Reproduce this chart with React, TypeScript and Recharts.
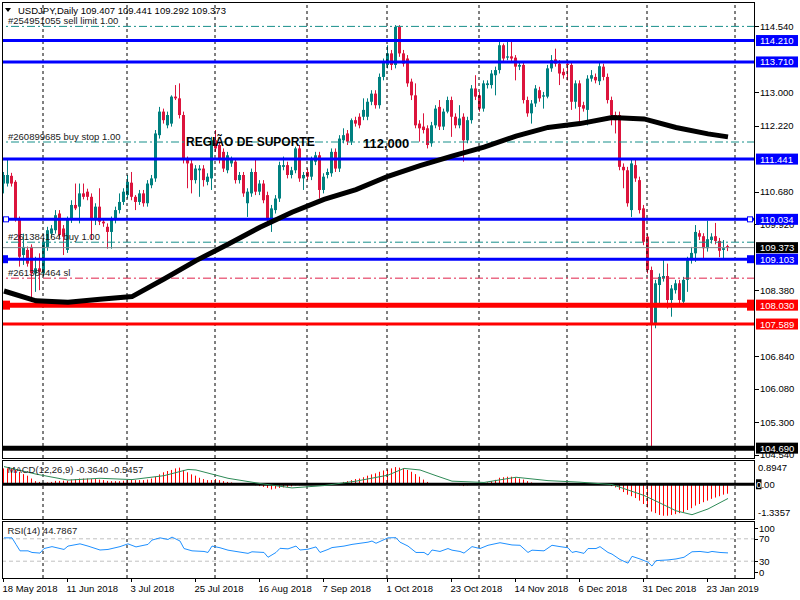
import React from "react";
import { ComposedChart, Bar, Line, XAxis, YAxis, ReferenceLine } from "recharts";

const FONT = '"Liberation Sans", Arial, sans-serif';
const BULL = "#008080";
const BEAR = "#dc143c";
const BLUE = "#0000ff";
const RED = "#ff0000";
const TEAL_ORDER = "#178f8a";
const RED_ORDER = "#e0204a";
const HIST = "#ff0000";
const SIGNAL = "#2e8b57";
const RSI_COLOR = "#1e90ff";

// Daily candles [open, high, low, close], 18 May 2018 .. 30 Jan 2019
const ohlc: [number, number, number, number][] = [
  [110.87, 111.14, 110.64, 111.07], [110.87, 111.42, 110.8, 111.07], [111.05, 111.12, 110.8, 110.87], [110.91, 110.95, 109.98, 110.02],
  [110.05, 110.1, 108.93, 109.16], [109.2, 109.7, 108.97, 109.39], [109.32, 109.4, 108.93, 109.0], [109.39, 109.45, 108.11, 108.77],
  [108.77, 109.16, 108.34, 108.89], [108.89, 109.24, 108.38, 108.81], [108.77, 109.6, 108.7, 109.51], [109.39, 109.86, 109.3, 109.78],
  [109.7, 109.9, 109.6, 109.82], [109.78, 110.25, 109.7, 110.13], [110.17, 110.25, 109.6, 109.67], [109.82, 109.9, 109.2, 109.63],
  [109.32, 110.1, 109.25, 110.02], [110.02, 110.48, 109.95, 110.37], [110.37, 110.87, 110.25, 110.29], [110.33, 110.87, 109.94, 110.64],
  [110.64, 110.87, 110.5, 110.56], [110.68, 110.75, 110.48, 110.56], [110.56, 110.64, 109.55, 110.02], [110.02, 110.41, 109.9, 110.33],
  [110.33, 110.76, 109.9, 109.98], [109.98, 110.05, 109.86, 109.94], [109.86, 109.94, 109.35, 109.74], [109.74, 110.1, 109.35, 110.02],
  [110.02, 110.33, 109.94, 110.25], [110.25, 110.64, 110.17, 110.44], [110.44, 110.76, 110.37, 110.68], [110.6, 111.07, 110.52, 110.91],
  [110.89, 111.14, 110.48, 110.56], [110.56, 110.6, 110.25, 110.44], [110.44, 110.72, 110.37, 110.64], [110.64, 110.72, 110.33, 110.41],
  [110.41, 110.95, 110.33, 110.87], [110.83, 111.07, 110.76, 110.99], [110.99, 112.12, 110.91, 112.04], [112.0, 112.66, 111.92, 112.55],
  [112.55, 112.62, 112.27, 112.35], [112.23, 112.55, 112.16, 112.47], [112.27, 112.93, 112.2, 112.9], [112.9, 113.17, 112.82, 112.86],
  [112.86, 113.21, 112.39, 112.47], [112.47, 112.55, 111.34, 111.42], [111.42, 111.5, 110.76, 111.34], [111.34, 111.42, 110.64, 110.95],
  [110.95, 111.3, 110.87, 111.22], [111.18, 111.3, 110.56, 111.22], [111.22, 111.3, 110.8, 110.95], [110.91, 111.11, 110.83, 111.03],
  [110.99, 111.96, 110.72, 111.88], [111.88, 112.12, 111.61, 111.69], [111.77, 111.85, 111.34, 111.42], [111.61, 111.69, 111.14, 111.22],
  [111.18, 111.61, 111.11, 111.53], [111.34, 111.5, 111.26, 111.42], [111.38, 111.46, 110.87, 110.95], [110.95, 111.14, 110.87, 111.07],
  [111.07, 111.14, 110.56, 110.64], [110.41, 110.76, 110.09, 110.68], [110.64, 111.22, 110.56, 111.14], [111.14, 111.42, 110.6, 110.68],
  [110.68, 110.95, 110.6, 110.87], [110.87, 110.95, 110.41, 110.48], [110.6, 110.68, 109.94, 110.02], [110.02, 110.37, 109.74, 110.29],
  [110.25, 110.6, 110.17, 110.52], [110.52, 111.38, 110.44, 111.3], [111.26, 111.5, 111.18, 111.3], [111.3, 111.38, 110.99, 111.07],
  [111.07, 111.26, 110.99, 111.18], [111.18, 111.73, 111.11, 111.69], [111.69, 111.77, 110.91, 110.99], [110.99, 111.14, 110.72, 111.07],
  [111.14, 111.22, 110.95, 111.03], [111.03, 111.5, 110.95, 111.43], [111.38, 111.61, 111.3, 111.53], [111.53, 111.61, 110.52, 110.72],
  [110.72, 111.11, 110.64, 111.03], [111.07, 111.22, 110.99, 111.14], [111.11, 111.69, 111.03, 111.61], [111.61, 111.69, 111.14, 111.22],
  [111.22, 112.0, 111.14, 111.92], [111.88, 112.16, 111.81, 112.0], [112.04, 112.12, 111.77, 111.85], [111.85, 112.39, 111.77, 112.35],
  [112.35, 112.43, 112.2, 112.27], [112.43, 112.51, 112.16, 112.23], [112.43, 112.86, 112.35, 112.59], [112.43, 112.86, 112.35, 112.78],
  [112.78, 113.05, 112.7, 112.97], [112.97, 113.05, 112.62, 112.7], [112.7, 113.44, 112.62, 113.36], [113.36, 113.79, 113.28, 113.71],
  [113.64, 114.1, 113.56, 113.91], [113.91, 113.99, 113.52, 113.64], [113.64, 114.57, 113.56, 114.53], [114.53, 114.57, 113.83, 113.91],
  [113.91, 113.99, 113.6, 113.67], [113.79, 113.87, 113.13, 113.21], [113.25, 113.32, 112.82, 112.93], [112.93, 113.21, 112.16, 112.23],
  [112.27, 112.35, 111.85, 112.16], [112.2, 112.51, 112.04, 112.12], [112.16, 112.23, 111.69, 111.77], [111.81, 112.31, 111.73, 112.23],
  [112.23, 112.7, 112.16, 112.62], [112.66, 112.82, 112.12, 112.2], [112.2, 112.62, 112.12, 112.55], [112.55, 112.9, 112.51, 112.82],
  [112.82, 112.9, 111.96, 112.43], [112.43, 112.51, 112.16, 112.23], [112.23, 112.7, 112.16, 112.39], [112.43, 112.51, 111.38, 111.88],
  [111.88, 112.43, 111.81, 112.35], [112.35, 113.17, 112.27, 113.09], [113.09, 113.4, 112.82, 112.9], [112.93, 113.01, 112.55, 112.62],
  [112.62, 113.28, 112.55, 113.21], [113.17, 113.28, 113.09, 113.21], [113.17, 113.52, 113.09, 113.44], [113.4, 113.6, 112.93, 113.52],
  [113.52, 114.18, 113.44, 114.1], [114.1, 114.14, 113.71, 113.79], [113.81, 114.22, 113.75, 113.84], [113.84, 114.18, 113.71, 113.79],
  [113.81, 113.87, 113.28, 113.6], [113.6, 113.71, 113.52, 113.64], [113.64, 113.71, 112.74, 112.82], [112.82, 112.9, 112.43, 112.51],
  [112.51, 112.82, 112.27, 112.74], [112.74, 113.17, 112.66, 113.09], [113.05, 113.13, 112.78, 112.86], [112.9, 113.01, 112.62, 112.93],
  [112.9, 113.64, 112.86, 113.56], [113.56, 113.87, 113.48, 113.75], [113.77, 114.02, 113.6, 113.67], [113.67, 113.75, 113.17, 113.44],
  [113.48, 113.56, 113.32, 113.4], [113.67, 113.75, 113.28, 113.64], [113.64, 113.71, 112.59, 112.78], [112.78, 113.28, 112.62, 113.21],
  [113.21, 113.28, 112.23, 112.66], [112.7, 112.78, 112.55, 112.62], [112.59, 113.4, 112.23, 113.32], [113.32, 113.52, 113.25, 113.4],
  [113.36, 113.44, 113.21, 113.28], [113.26, 113.71, 113.17, 113.61], [113.6, 113.67, 113.28, 113.36], [113.36, 113.44, 112.74, 112.82],
  [112.82, 112.9, 112.23, 112.47], [112.47, 112.55, 112.04, 112.35], [112.47, 112.55, 111.18, 111.26], [111.26, 111.34, 110.76, 111.18],
  [111.18, 111.26, 110.33, 110.41], [110.25, 111.42, 110.09, 111.34], [111.3, 111.42, 110.91, 110.99], [110.95, 111.03, 110.17, 110.25],
  [110.29, 110.37, 109.43, 109.51], [109.63, 109.7, 108.77, 108.85], [108.85, 108.93, 104.69, 107.6], [107.6, 108.62, 107.49, 108.54],
  [108.5, 108.77, 107.99, 108.69], [108.65, 109.08, 108.58, 108.71], [108.71, 109.0, 107.95, 108.15], [108.15, 108.5, 107.76, 108.42],
  [108.38, 108.62, 108.3, 108.54], [108.54, 108.62, 108.07, 108.15], [108.11, 108.69, 108.03, 108.62], [108.62, 109.16, 108.34, 109.08],
  [109.08, 109.39, 109.0, 109.25], [109.24, 109.9, 109.04, 109.74], [109.71, 109.78, 109.55, 109.63], [109.64, 109.71, 109.12, 109.36],
  [109.36, 110.0, 109.28, 109.57], [109.55, 109.71, 109.47, 109.63], [109.64, 109.95, 109.45, 109.53], [109.53, 109.6, 109.15, 109.3],
  [109.32, 109.55, 109.12, 109.36], [109.407, 109.441, 109.292, 109.373],
];

// Moving average read at sparse bars [bar, value]
const maPoints: [number, number][] = [
  [0, 108.36], [8, 108.13], [16, 108.1], [24, 108.17], [32, 108.23], [40, 108.64], [48, 109.07], [56, 109.45],
  [64, 109.85], [72, 110.2], [80, 110.5], [88, 110.73], [96, 111.04], [104, 111.29], [112, 111.51], [120, 111.72],
  [128, 111.98], [136, 112.18], [144, 112.27], [152, 112.41], [160, 112.38], [168, 112.18], [176, 112.03], [181, 111.96],
];

// MACD main (histogram), one per bar
const macdHist = [
  0.61, 0.61, 0.61, 0.55, 0.48, 0.39, 0.33, 0.22, 0.12, 0.09,
  0.05, 0.07, 0.09, 0.13, 0.13, 0.14, 0.14, 0.18, 0.2, 0.22,
  0.22, 0.22, 0.2, 0.2, 0.18, 0.16, 0.13, 0.12, 0.12, 0.12,
  0.14, 0.18, 0.18, 0.16, 0.16, 0.16, 0.18, 0.22, 0.29, 0.38,
  0.46, 0.51, 0.55, 0.61, 0.64, 0.55, 0.46, 0.38, 0.33, 0.25,
  0.2, 0.16, 0.16, 0.2, 0.16, 0.12, 0.09, 0.07, 0.03, 0.0,
  -0.01, -0.01, 0.0, -0.04, -0.07, -0.1, -0.14, -0.2, -0.17, -0.14,
  -0.12, -0.1, -0.08, -0.04, -0.04, -0.01, 0.0, -0.01, 0.01, 0.0,
  -0.01, 0.0, 0.01, 0.02, 0.04, 0.09, 0.12, 0.16, 0.2, 0.22,
  0.27, 0.33, 0.38, 0.42, 0.48, 0.53, 0.57, 0.61, 0.66, 0.64,
  0.61, 0.55, 0.48, 0.39, 0.29, 0.18, 0.09, 0.03, 0.01, 0.0,
  0.0, -0.01, 0.0, -0.01, -0.04, -0.07, -0.04, 0.0, 0.01, 0.01,
  0.03, 0.07, 0.12, 0.17, 0.25, 0.27, 0.29, 0.29, 0.26, 0.22,
  0.18, 0.12, 0.07, 0.02, 0.02, 0.01, 0.02, 0.03, 0.02, 0.01,
  0.01, 0.0, 0.0, 0.01, 0.0, -0.01, 0.0, 0.01, 0.0, 0.01,
  0.0, -0.01, -0.07, -0.12, -0.21, -0.3, -0.4, -0.46, -0.53, -0.63,
  -0.76, -0.89, -1.05, -1.11, -1.18, -1.21, -1.21, -1.18, -1.15, -1.11,
  -1.08, -0.99, -0.92, -0.82, -0.76, -0.69, -0.63, -0.56, -0.51, -0.46,
  -0.4, -0.364,
];

// MACD signal read at sparse bars
const signalPoints: [number, number][] = [
  [0, 0.68], [8, 0.39], [16, 0.16], [24, 0.23], [32, 0.18], [40, 0.33], [46, 0.57], [48, 0.55],
  [56, 0.23], [64, 0.03], [72, -0.14], [80, -0.05], [88, 0.12], [96, 0.35], [100, 0.61], [104, 0.55],
  [108, 0.33], [112, 0.12], [120, 0.07], [128, 0.27], [136, 0.14], [144, 0.08], [152, -0.01], [160, -0.43],
  [164, -0.72], [168, -1.02], [172, -1.17], [176, -0.95], [181, -0.5457],
];

// RSI(14) read at bars
const rsiPoints: [number, number][] = [
  [0, 71.7], [2, 71.7], [3, 60], [4, 48.5], [6, 48.5], [7, 45.6], [9, 44.5], [10, 52.6], [12, 56], [15, 51],
  [16, 57], [19, 61], [21, 57], [24, 50], [26, 51], [29, 56], [31, 61], [33, 55.5], [36, 60], [37, 67.7],
  [39, 71.7], [41, 68.8], [42, 73], [44, 66], [45, 52.6], [47, 48.5], [50, 47.4], [51, 45.6], [52, 57], [54, 54],
  [56, 49.7], [58, 47.4], [61, 44], [62, 46.8], [65, 45.6], [66, 37], [68, 45.6], [69, 53], [71, 52], [73, 57],
  [74, 50], [76, 51.4], [78, 55.5], [79, 45.6], [81, 51], [82, 54.3], [85, 57], [87, 60], [91, 64], [92, 66],
  [93, 62], [96, 71.7], [98, 72], [99, 64], [101, 57], [103, 45.6], [105, 45.6], [106, 41], [107, 50], [109, 47.4],
  [111, 52.6], [112, 49.7], [114, 47.4], [115, 44.5], [117, 56], [119, 52.6], [121, 58.4], [124, 63], [127, 59], [129, 58.4],
  [131, 45.6], [132, 49.7], [135, 48.5], [137, 58.4], [139, 56], [141, 54], [142, 45.6], [143, 47.4], [145, 44], [146, 52.6],
  [148, 52.6], [149, 56], [151, 45.6], [152, 42.7], [154, 33], [156, 26.5], [157, 38.7], [159, 34], [161, 28.2], [162, 21.3],
  [163, 31], [166, 32.3], [168, 34], [170, 37], [172, 46.8], [174, 47.4], [176, 45.6], [177, 47.4], [179, 45.6], [181, 44.79],
];

const dateLabels = [
  "18 May 2018", "11 Jun 2018", "3 Jul 2018", "25 Jul 2018", "16 Aug 2018", "7 Sep 2018",
  "1 Oct 2018", "23 Oct 2018", "14 Nov 2018", "6 Dec 2018", "31 Dec 2018", "23 Jan 2019",
];
const dateLabelBars = [0, 16, 32, 48, 64, 80, 96, 112, 128, 144, 160, 176];
const monthStartBars = [10, 31, 53, 76, 96, 119, 141, 161, 183];

const priceTicks = [114.54, 113.0, 112.22, 110.68, 109.92, 108.38, 106.84, 106.08, 105.3, 104.54];
const blueLevels = [114.21, 113.71, 111.441, 110.034, 109.103];
const redLevels = [108.03, 107.589];
const flashLow = 104.69;
const lastPrice = 109.373;
const orderLevels = [114.54, 111.84, 109.5, 108.66];
const orderLabels = ["#254951055 sell limit 1.00", "#260899685 buy stop 1.00", "#261384164 buy 1.00", "#261384464 sl"];
const macdTicks = [0.8947, 0, -1.3357];
const rsiTicks = [100, 70, 30, 0];
const rsiLevels = [70, 30];

const maMap = new Map(maPoints);
const sigMap = new Map(signalPoints);
const rsiMap = new Map(rsiPoints);

const mainData = ohlc.map(([o, h, l, c], i) => ({ i, o, h, l, c, range: [l, h], ma: maMap.has(i) ? maMap.get(i) : null }));
const macdData = ohlc.map((_, i) => ({ i, macd: macdHist[i], sig: sigMap.has(i) ? sigMap.get(i) : null }));
const rsiData = ohlc.map((_, i) => ({ i, rsi: rsiMap.has(i) ? rsiMap.get(i) : null }));

const X_DOMAIN: [number, number] = [-0.5, 187.75];

const Candle = (props: any) => {
  const { x, y, width, height, payload } = props;
  if (!payload || x == null || y == null) return null;
  const { o, h, l, c } = payload;
  const top0 = Math.min(y, y + height);
  const hh = Math.abs(height);
  const span = h - l || 1e-6;
  const py = (v: number) => top0 + ((h - v) / span) * hh;
  const cx = Math.floor(x + width / 2);
  const color = c >= o ? BULL : BEAR;
  const bt = py(Math.max(o, c));
  const bb = py(Math.min(o, c));
  return (
    <g>
      <line x1={cx + 0.5} x2={cx + 0.5} y1={top0} y2={top0 + hh} stroke={color} strokeWidth={1} />
      <rect x={cx - 1} y={bt} width={3} height={Math.max(1, bb - bt)} fill={color} />
    </g>
  );
};

const HistBar = (props: any) => {
  const { x, y, width, height } = props;
  if (x == null || y == null || height == null) return null;
  const top = Math.min(y, y + height);
  const h = Math.max(Math.abs(height), 0.5);
  const px = Math.floor(x + (width || 0) / 2) + 0.5;
  return <line x1={px} x2={px} y1={top} y2={top + h} stroke={HIST} strokeWidth={1} />;
};

const PriceTick = (props: any) => {
  const { x, y, payload } = props;
  const v = payload.value as number;
  const label = v.toFixed(3);
  let bg: string | null = null;
  if (blueLevels.includes(v)) bg = BLUE;
  else if (redLevels.includes(v)) bg = RED;
  else if (v === lastPrice || v === flashLow) bg = "#000";
  if (bg) {
    return (
      <g>
        <rect x={x + 1} y={y - 5.5} width={42} height={11} fill={bg} />
        <text x={x + 5} y={y + 3.5} fill="#fff" fontSize={9.5} fontFamily={FONT}>{label}</text>
      </g>
    );
  }
  const ly = Math.round(y) + 0.5;
  return (
    <g>
      <line x1={x} x2={x + 4} y1={ly} y2={ly} stroke="#000" />
      <text x={x + 5} y={y + 3.5} fill="#000" fontSize={9.5} fontFamily={FONT}>{label}</text>
    </g>
  );
};

const MacdTick = (props: any) => {
  const { x, y, payload } = props;
  const v = payload.value as number;
  if (v === 0) {
    return (
      <g>
        <rect x={x + 1} y={y - 5} width={5.5} height={10} fill="#000" />
        <text x={x + 1.2} y={y + 3.5} fill="#000" fontSize={9.5} fontFamily={FONT}>
          <tspan fill="#fff">0</tspan>.00
        </text>
      </g>
    );
  }
  const dy = v > 0 ? 6.7 : -6.3;
  return <text x={x + 3} y={y + dy + 3.5} fill="#000" fontSize={9.5} fontFamily={FONT}>{v.toFixed(4)}</text>;
};

const RsiTick = (props: any) => {
  const { x, y, payload } = props;
  const v = payload.value as number;
  const dy = v === 100 ? 6 : v === 0 ? -6 : 0;
  const ly = Math.round(y + dy) + 0.5;
  return (
    <g>
      <line x1={x} x2={x + 3} y1={ly} y2={ly} stroke="#000" />
      <text x={x + 4} y={y + dy + 3.5} fill="#000" fontSize={9.5} fontFamily={FONT}>{v}</text>
    </g>
  );
};

const DateTick = (props: any) => {
  const { x, y, payload } = props;
  const idx = dateLabelBars.indexOf(payload.value);
  const px = Math.floor(x) - 0.5;
  return (
    <g>
      <line x1={px} x2={px} y1={y} y2={y + 4} stroke="#000" />
      <text x={x - 1.5} y={y + 14} fill="#000" fontSize={9.5} fontFamily={FONT}>{dateLabels[idx]}</text>
    </g>
  );
};

const OrderLabel = (props: any) => {
  const vb = props.viewBox || {};
  return (
    <text x={(vb.x ?? 0) + 6} y={(vb.y ?? 0) - 2.5} fill="#1a1a1a" fontSize={9.5} fontFamily={FONT}>
      {props.text}
    </text>
  );
};

const EndMarkers = (props: any) => {
  const vb = props.viewBox || {};
  const y = vb.y ?? 0;
  const x1 = vb.x ?? 0;
  const x2 = x1 + (vb.width ?? 0);
  const kind = props.kind;
  if (kind === "outline") {
    return (
      <g>
        <rect x={x1 + 1.5} y={y - 2.5} width={5} height={5} fill="#fff" stroke={BLUE} strokeWidth={1} />
        <rect x={x2 - 7.5} y={y - 2.5} width={5} height={5} fill="#fff" stroke={BLUE} strokeWidth={1} />
      </g>
    );
  }
  const color = kind === "red" ? RED : BLUE;
  const hh = kind === "red" ? 9 : 8;
  return (
    <g>
      <rect x={x1} y={y - hh / 2} width={kind === "red" ? 8 : 6} height={hh} fill={color} />
      <rect x={x2 - 8} y={y - hh / 2 - (kind === "red" ? 1 : 0)} width={8} height={hh + (kind === "red" ? 2 : 0)} fill={color} />
    </g>
  );
};

const markerKind = (v: number) => (v === 110.034 ? "outline" : v === 109.103 ? "blue" : v === 108.03 ? "red" : null);

export default function App() {
  const mainYTicks = [...priceTicks, lastPrice, ...blueLevels, ...redLevels, flashLow];
  return (
    <div style={{ position: "absolute", left: 0, top: 0, width: 800, height: 600, background: "#fff", overflow: "hidden" }}>
      <div style={{ position: "absolute", left: 0, top: 0 }}>
        <ComposedChart width={800} height={460} data={mainData} margin={{ top: 2, right: 0, bottom: 2, left: 2 }}>
          <XAxis type="number" dataKey="i" domain={X_DOMAIN} hide allowDataOverflow />
          <YAxis
            orientation="right"
            width={45}
            domain={[104.46, 115.11]}
            allowDataOverflow
            ticks={mainYTicks}
            interval={0}
            tickSize={0}
            tickMargin={0}
            tickLine={false}
            axisLine={false}
            tick={<PriceTick />}
          />
          {monthStartBars.map((b) => (
            <ReferenceLine key={"g" + b} x={b - 0.25} stroke="#000" strokeDasharray="3 3" ifOverflow="extendDomain" />
          ))}
          <Bar dataKey="range" barSize={3} shape={<Candle />} isAnimationActive={false} />
          {orderLevels.map((v, k) => (
            <ReferenceLine
              key={"o" + v}
              y={v}
              stroke={k === 3 ? RED_ORDER : TEAL_ORDER}
              strokeDasharray="8 3 2 3"
              label={<OrderLabel text={orderLabels[k]} />}
            />
          ))}
          <ReferenceLine y={lastPrice} stroke="#7f8a8f" strokeWidth={1} />
          {blueLevels.map((v) => (
            <ReferenceLine
              key={"b" + v}
              y={v}
              stroke={BLUE}
              strokeWidth={3}
              label={markerKind(v) ? <EndMarkers kind={markerKind(v)} /> : undefined}
            />
          ))}
          {redLevels.map((v) => (
            <ReferenceLine
              key={"r" + v}
              y={v}
              stroke={RED}
              strokeWidth={v === 108.03 ? 5 : 3}
              label={markerKind(v) ? <EndMarkers kind={markerKind(v)} /> : undefined}
            />
          ))}
          <ReferenceLine y={flashLow} stroke="#000" strokeWidth={5} />
          <Line dataKey="ma" stroke="#000" strokeWidth={5} dot={false} connectNulls type="linear" isAnimationActive={false} />
        </ComposedChart>
      </div>

      <div style={{ position: "absolute", left: 0, top: 459 }}>
        <ComposedChart width={800} height={62} data={macdData} margin={{ top: 2, right: 0, bottom: 2, left: 2 }}>
          <XAxis type="number" dataKey="i" domain={X_DOMAIN} hide allowDataOverflow />
          <YAxis
            orientation="right"
            width={45}
            domain={[-1.3357, 0.8947]}
            allowDataOverflow
            ticks={macdTicks}
            interval={0}
            tickSize={0}
            tickMargin={0}
            tickLine={false}
            axisLine={false}
            tick={<MacdTick />}
          />
          {monthStartBars.map((b) => (
            <ReferenceLine key={"mg" + b} x={b - 0.25} stroke="#000" strokeDasharray="3 3" />
          ))}
          <Bar dataKey="macd" barSize={1} fill={HIST} shape={<HistBar />} isAnimationActive={false} />
          <ReferenceLine y={0} stroke="#000" strokeWidth={3} />
          <Line dataKey="sig" stroke={SIGNAL} strokeWidth={1} dot={false} connectNulls type="linear" isAnimationActive={false} />
        </ComposedChart>
      </div>

      <div style={{ position: "absolute", left: 0, top: 520 }}>
        <ComposedChart width={800} height={80} data={rsiData} margin={{ top: 2, right: 0, bottom: 2, left: 2 }}>
          <XAxis
            type="number"
            dataKey="i"
            domain={X_DOMAIN}
            allowDataOverflow
            ticks={dateLabelBars}
            interval={0}
            height={20}
            tickSize={0}
            tickMargin={0}
            tickLine={false}
            axisLine={false}
            tick={<DateTick />}
          />
          <YAxis
            orientation="right"
            width={45}
            domain={[0, 100]}
            allowDataOverflow
            ticks={rsiTicks}
            interval={0}
            tickSize={0}
            tickMargin={0}
            tickLine={false}
            axisLine={false}
            tick={<RsiTick />}
          />
          {monthStartBars.map((b) => (
            <ReferenceLine key={"rg" + b} x={b - 0.25} stroke="#000" strokeDasharray="3 3" />
          ))}
          {rsiLevels.map((v) => (
            <ReferenceLine key={"rl" + v} y={v} stroke="#c0c0c0" strokeDasharray="4 3" />
          ))}
          <Line dataKey="rsi" stroke={RSI_COLOR} strokeWidth={1} dot={false} connectNulls type="linear" isAnimationActive={false} />
        </ComposedChart>
      </div>

      <div style={{ position: "absolute", left: 2, top: 2, width: 753, height: 457, border: "1px solid #000", boxSizing: "border-box", pointerEvents: "none" }} />
      <div style={{ position: "absolute", left: 2, top: 460, width: 753, height: 60, border: "1px solid #000", boxSizing: "border-box", pointerEvents: "none" }} />
      <div style={{ position: "absolute", left: 2, top: 521, width: 753, height: 58, border: "1px solid #000", boxSizing: "border-box", pointerEvents: "none" }} />

      <svg width={800} height={600} style={{ position: "absolute", left: 0, top: 0, pointerEvents: "none" }}>
        <polygon points="5,8 11,8 8,12" fill="#000" />
        <text x={18} y={14} fontSize={9.5} fontFamily={FONT} fill="#000">USDJPY,Daily  109.407 109.441 109.292 109.373</text>
        <text x={186} y={146} fontSize={12} fontWeight="bold" fontFamily={FONT} fill="#000">REGIÃO DE SUPORTE</text>
        <text x={363} y={148} fontSize={13} fontWeight="bold" fontFamily={FONT} fill="#000">112,000</text>
        <text x={7.5} y={473.3} fontSize={9.5} fontFamily={FONT} fill="#1a1a1a">MACD(12,26,9) -0.3640 -0.5457</text>
        <text x={7.5} y={534} fontSize={9.5} fontFamily={FONT} fill="#1a1a1a">RSI(14) 44.7867</text>
      </svg>
    </div>
  );
}
